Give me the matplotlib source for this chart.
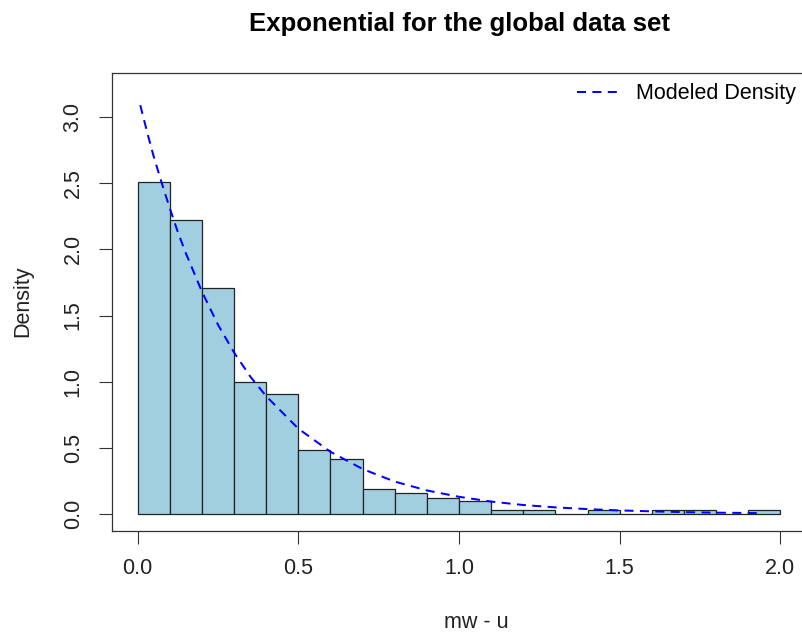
import numpy as np
import matplotlib
matplotlib.use("Agg")
import matplotlib.pyplot as plt

plt.rcParams['font.family'] = ['Liberation Sans', 'DejaVu Sans']

# histogram (density scale), bins of width 0.1 from 0 to 2
bin_edges = np.round(np.arange(0, 2.01, 0.1), 2)
density = [2.51, 2.22, 1.705, 1.00, 0.905, 0.483, 0.418, 0.19, 0.16, 0.122,
           0.095, 0.028, 0.028, 0.0, 0.028, 0.0, 0.028, 0.028, 0.0, 0.028]

# modeled density curve
curve_x = [0.008, 0.03, 0.05, 0.075, 0.1, 0.125, 0.15, 0.2, 0.25, 0.3, 0.35, 0.4,
           0.5, 0.6, 0.7, 0.8, 0.9, 1.0, 1.1, 1.2, 1.3, 1.4, 1.5, 1.6, 1.7, 1.8, 1.93]
curve_y = [3.09, 2.88, 2.70, 2.50, 2.31, 2.13, 1.97, 1.68, 1.43, 1.22, 1.04, 0.89,
           0.645, 0.47, 0.34, 0.245, 0.178, 0.13, 0.094, 0.068, 0.05, 0.037,
           0.027, 0.02, 0.014, 0.01, 0.007]

W, H = 802, 633
fig = plt.figure(figsize=(W / 100, H / 100), dpi=100)
ax = fig.add_axes([112 / W, (H - 531) / H, 694 / W, 458 / H])

lefts = bin_edges[:-1]
ax.bar(lefts, density, width=0.1, align='edge', color='#a1cfe0',
       edgecolor='#222222', linewidth=0.9)
ax.plot(curve_x, curve_y, color='#0000ff', linewidth=1.44,
        dashes=(4.5, 3.2), label='Modeled Density')

ax.set_xlim(-0.08, 2.08)
ax.set_ylim(-0.1285, 3.333)
ax.set_xticks([0.0, 0.5, 1.0, 1.5, 2.0])
ax.set_yticks([0.0, 0.5, 1.0, 1.5, 2.0, 2.5, 3.0])
ax.set_xticklabels(['0.0', '0.5', '1.0', '1.5', '2.0'])
ax.set_yticklabels(['0.0', '0.5', '1.0', '1.5', '2.0', '2.5', '3.0'],
                   rotation=90, va='center')
ax.tick_params(axis='both', length=9.4, width=0.8, color='#333333',
               labelsize=15.5, labelcolor='#222222')
ax.tick_params(axis='x', pad=10)
ax.tick_params(axis='y', pad=11)
for s in ax.spines.values():
    s.set_color('#333333')
    s.set_linewidth(0.9)

fig.text(459 / W, 1 - 31 / H, 'Exponential for the global data set',
         ha='center', va='baseline', fontsize=18.5, fontweight='bold')
fig.text(476 / W, 1 - 628 / H, 'mw - u', ha='center', va='baseline',
         fontsize=15.5, color='#222222')
fig.text(23 / W, 1 - 301 / H, 'Density', ha='center', va='center',
         rotation=90, fontsize=15.5, color='#222222')

ax.legend(loc='center right', bbox_to_anchor=(796 / W, 1 - 94 / H),
          bbox_transform=fig.transFigure, frameon=False, fontsize=15.5,
          handlelength=1.9, handletextpad=0.85, borderpad=0, borderaxespad=0)

fig.savefig('out.png', dpi=100)
